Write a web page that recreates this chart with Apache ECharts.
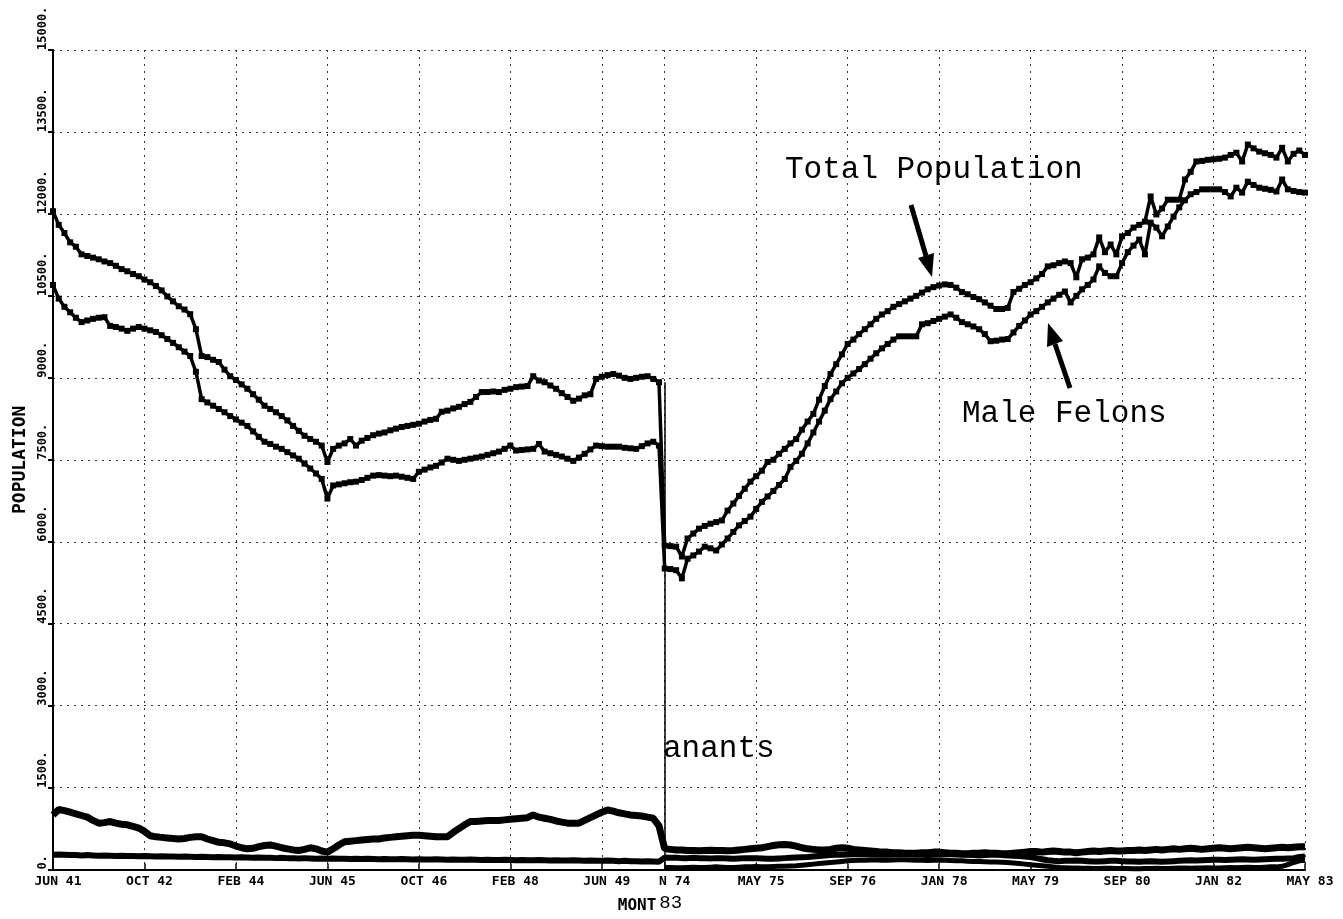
<!DOCTYPE html>
<html>
<head>
<meta charset="utf-8">
<title>Population by month</title>
<script src="https://cdn.jsdelivr.net/npm/echarts@6/dist/echarts.min.js"></script>
<style>
  html, body { margin: 0; padding: 0; background: #fff; }
  #myChart { width: 1343px; height: 919px; }
</style>
</head>
<body>
<div id="myChart"></div>
<script>
// two runs of monthly data spliced together: JUN 41 - APR 50, then JAN 74 - MAY 83
var firstPart = { year: 1941, month: 5, count: 107 };
var secondPart = { year: 1974, month: 0, count: 113 };
var monthNames = ['JAN','FEB','MAR','APR','MAY','JUN','JUL','AUG','SEP','OCT','NOV','DEC'];
var tickLabels = ['JUN 41','OCT 42','FEB 44','JUN 45','OCT 46','FEB 48','JUN 49',
                  'JAN 74','MAY 75','SEP 76','JAN 78','MAY 79','SEP 80','JAN 82','MAY 83'];

var totalLeft = [
  12050, 11800, 11650, 11480, 11400, 11260, 11230, 11200, 11170, 11130, 11100, 11050, 10990, 10950, 10900, 10860,
  10800, 10750, 10680, 10600, 10490, 10400, 10310, 10250, 10165, 9890, 9400, 9380, 9330, 9290, 9150, 9030,
  8960, 8880, 8800, 8700, 8600, 8490, 8430, 8370, 8300, 8220, 8120, 8030, 7940, 7880, 7830, 7760,
  7460, 7700, 7760, 7800, 7880, 7760, 7850, 7900, 7950, 7980, 8000, 8040, 8070, 8100, 8120, 8140,
  8160, 8200, 8230, 8250, 8380, 8400, 8440, 8470, 8520, 8560, 8650, 8740, 8740, 8750, 8740, 8780,
  8800, 8830, 8840, 8850, 9030, 8950, 8920, 8860, 8800, 8720, 8650, 8580, 8620, 8680, 8700, 8980,
  9020, 9050, 9070, 9040, 9000, 8980, 9000, 9020, 9030, 8980, 8920
];
var totalRight = [
  5930, 5920, 5910, 5730, 6060, 6150, 6240, 6290, 6330, 6360, 6390, 6570, 6700, 6840, 6970, 7100,
  7200, 7300, 7460, 7500, 7610, 7700, 7800, 7880, 8050, 8200, 8340, 8600, 8850, 9070, 9250, 9430,
  9620, 9700, 9800, 9890, 9980, 10080, 10160, 10220, 10300, 10350, 10400, 10450, 10500, 10560, 10620, 10660,
  10690, 10710, 10700, 10650, 10570, 10530, 10480, 10440, 10380, 10320, 10260, 10260, 10280, 10570, 10630, 10700,
  10750, 10820, 10900, 11040, 11060, 11100, 11130, 11100, 10840, 11170, 11200, 11260, 11570, 11300, 11440, 11260,
  11590, 11650, 11750, 11800, 11860, 12320, 11990, 12100, 12260, 12260, 12260, 12630, 12770, 12960, 12970, 12990,
  13000, 13010, 13030, 13080, 13120, 12960, 13270, 13200, 13140, 13110, 13080, 13030, 13210, 12960, 13100, 13160,
  13080
];

var maleLeft = [
  10700, 10450, 10300, 10200, 10100, 10020, 10050, 10080, 10100, 10110, 9950, 9930, 9900, 9860, 9900, 9930,
  9900, 9870, 9840, 9780, 9710, 9640, 9560, 9480, 9400, 9110, 8610, 8550, 8490, 8430, 8370, 8300,
  8240, 8180, 8120, 8020, 7920, 7830, 7790, 7740, 7700, 7640, 7580, 7520, 7430, 7340, 7250, 7150,
  6790, 7030, 7050, 7070, 7090, 7100, 7130, 7170, 7210, 7220, 7210, 7200, 7210, 7190, 7170, 7150,
  7280, 7320, 7360, 7390, 7450, 7520, 7500, 7480, 7500, 7520, 7540, 7560, 7590, 7620, 7650, 7700,
  7760, 7670, 7680, 7690, 7700, 7790, 7650, 7620, 7590, 7560, 7520, 7480, 7540, 7610, 7690, 7760,
  7750, 7740, 7740, 7740, 7720, 7710, 7700, 7750, 7800, 7830, 7760
];
var maleRight = [
  5510, 5500, 5480, 5330, 5690, 5750, 5820, 5910, 5880, 5840, 5950, 6060, 6180, 6300, 6380, 6460,
  6600, 6730, 6830, 6930, 7040, 7150, 7370, 7480, 7610, 7800, 8000, 8200, 8400, 8610, 8750, 8900,
  9000, 9080, 9160, 9250, 9350, 9450, 9540, 9620, 9700, 9760, 9760, 9760, 9760, 9980, 10000, 10040,
  10080, 10120, 10160, 10100, 10020, 9980, 9940, 9890, 9800, 9670, 9680, 9700, 9710, 9830, 9950, 10050,
  10160, 10220, 10300, 10380, 10450, 10520, 10580, 10380, 10500, 10620, 10700, 10800, 11040, 10920, 10860, 10860,
  11100, 11300, 11420, 11530, 11260, 11840, 11750, 11590, 11770, 11950, 12120, 12250, 12360, 12400, 12450, 12450,
  12450, 12450, 12400, 12320, 12480, 12390, 12590, 12530, 12480, 12460, 12440, 12410, 12630, 12450, 12420, 12400,
  12390
];

var misdLeft = [
  1000, 1100, 1080, 1050, 1020, 990, 960, 900, 850, 860, 880, 850, 830, 820, 790, 760,
  700, 620, 600, 590, 580, 570, 560, 570, 590, 600, 600, 560, 530, 500, 490, 470,
  430, 400, 380, 390, 420, 440, 450, 430, 400, 380, 360, 350, 370, 400, 380, 340,
  320, 380, 450, 510, 520, 530, 540, 550, 560, 560, 580, 590, 600, 610, 620, 630,
  630, 620, 610, 600, 600, 600, 680, 750, 820, 880, 880, 890, 900, 900, 900, 910,
  920, 930, 940, 950, 1000, 960, 940, 920, 890, 870, 850, 850, 850, 900, 950, 1000,
  1050, 1090, 1070, 1040, 1020, 1000, 990, 980, 960, 940, 800
];
var misdRight = [
  380, 370, 360, 360, 350, 350, 345, 350, 355, 350, 350, 345, 350, 360, 370, 380,
  390, 400, 420, 440, 455, 460, 450, 430, 400, 380, 370, 360, 360, 370, 390, 400,
  390, 370, 360, 350, 340, 330, 320, 320, 310, 310, 300, 300, 300, 310, 310, 320,
  320, 310, 300, 300, 290, 290, 300, 300, 310, 300, 300, 290, 290, 300, 310, 320,
  330, 330, 320, 330, 340, 330, 320, 320, 310, 320, 330, 340, 330, 340, 350, 340,
  340, 350, 350, 360, 350, 360, 370, 360, 370, 380, 370, 380, 390, 380, 370, 380,
  390, 400, 390, 380, 390, 400, 410, 400, 390, 380, 390, 400, 410, 400, 410, 420,
  420
];

var femaleLeft = [
  270, 275, 270, 265, 265, 260, 265, 260, 255, 260, 255, 250, 255, 250, 250, 245,
  250, 245, 240, 245, 240, 240, 235, 240, 235, 230, 235, 230, 225, 230, 225, 225,
  220, 225, 220, 215, 220, 215, 215, 210, 215, 210, 210, 205, 210, 205, 200, 205,
  200, 205, 200, 200, 195, 200, 195, 200, 195, 190, 195, 190, 190, 195, 190, 185,
  190, 185, 185, 190, 185, 180, 185, 180, 180, 185, 180, 175, 180, 175, 175, 180,
  175, 170, 175, 170, 170, 175, 170, 165, 170, 165, 165, 170, 165, 160, 165, 160,
  160, 165, 160, 155, 160, 155, 155, 150, 155, 150, 145
];
var femaleRight = [
  220, 215, 215, 210, 210, 215, 210, 210, 205, 210, 210, 205, 200, 205, 210, 210,
  210, 205, 200, 200, 205, 210, 215, 220, 225, 230, 240, 250, 260, 265, 270, 270,
  275, 280, 280, 280, 275, 275, 270, 270, 275, 280, 280, 275, 270, 270, 265, 270,
  275, 280, 280, 275, 270, 270, 265, 260, 265, 270, 270, 265, 260, 255, 250, 240,
  230, 210, 190, 170, 160, 155, 160, 160, 165, 160, 155, 150, 150, 155, 160, 160,
  155, 150, 150, 145, 150, 155, 150, 145, 150, 155, 160, 165, 170, 165, 170, 175,
  180, 180, 175, 180, 185, 190, 185, 180, 185, 190, 195, 200, 200, 205, 210, 230,
  240
];

// third small series only drawn on the later run
var otherRight = [
  40, 40, 35, 35, 40, 45, 40, 40, 45, 50, 45, 40, 40, 45, 50, 50,
  55, 50, 50, 55, 60, 60, 65, 70, 80, 90, 100, 110, 120, 130, 140, 150,
  160, 165, 170, 170, 175, 175, 170, 170, 175, 180, 180, 175, 170, 170, 165, 170,
  175, 170, 165, 160, 160, 155, 150, 150, 145, 140, 140, 135, 130, 120, 110, 100,
  90, 80, 70, 60, 50, 40, 35, 30, 30, 25, 25, 20, 20, 25, 25, 20,
  20, 20, 15, 15, 20, 20, 25, 20, 20, 25, 30, 30, 25, 30, 30, 35,
  30, 30, 35, 40, 35, 40, 45, 40, 40, 45, 50, 50, 60, 90, 130, 160,
  170
];

function monthList(p) {
  var out = [];
  for (var k = 0; k < p.count; k++) {
    var m = (p.month + k) % 12;
    var y = p.year + Math.floor((p.month + k) / 12);
    out.push(monthNames[m] + ' ' + String(y).slice(2));
  }
  return out;
}
var categories = monthList(firstPart).concat(monthList(secondPart));
var gap = [];
for (var g = 0; g < firstPart.count; g++) gap.push(null);

function isTick(index, value) {
  return tickLabels.indexOf(categories[index]) >= 0;
}

var plotFont = 'DejaVu Sans Mono';
var noteFont = 'Liberation Mono';
var dots = { type: [2, 5], color: '#333', width: 1 };

var option = {
  animation: false,
  backgroundColor: '#fff',
  grid: { left: 53, right: 38, top: 50, bottom: 47, containLabel: false },
  xAxis: {
    type: 'category',
    data: categories,
    boundaryGap: false,
    name: '{m|MONT}{n|83}',
    nameLocation: 'middle',
    nameGap: 22,
    nameTextStyle: {
      rich: {
        m: { fontFamily: plotFont, fontWeight: 'bold', fontSize: 16, color: '#000' },
        n: { fontFamily: noteFont, fontSize: 19, color: '#000', padding: [0, 58, 6, 3] }
      }
    },
    axisLine: { lineStyle: { color: '#000', width: 2 } },
    axisTick: { show: true, inside: true, length: 6, interval: isTick, lineStyle: { color: '#000', width: 1.5 } },
    splitLine: { show: true, interval: isTick, lineStyle: dots },
    axisLabel: {
      interval: isTick,
      margin: 6,
      padding: [0, 0, 0, 10],
      fontFamily: plotFont,
      fontWeight: 'bold',
      fontSize: 13,
      color: '#000',
      formatter: function (v) {
        if (v === 'JAN 74') return '{cut|N 74}';
        return v;
      },
      rich: {
        cut: { fontFamily: plotFont, fontWeight: 'bold', fontSize: 13, color: '#000', padding: [0, 0, 0, 10] }
      }
    }
  },
  yAxis: {
    type: 'value',
    min: 0,
    max: 15000,
    interval: 1500,
    name: 'POPULATION',
    nameLocation: 'middle',
    nameRotate: 90,
    nameGap: 20,
    nameTextStyle: { fontFamily: plotFont, fontWeight: 'bold', fontSize: 18, color: '#000' },
    axisLine: { show: true, lineStyle: { color: '#000', width: 2 } },
    axisTick: { show: true, length: 5, lineStyle: { color: '#000', width: 2 } },
    splitLine: { show: true, lineStyle: dots },
    axisLabel: {
      rotate: 90,
      align: 'left',
      verticalAlign: 'bottom',
      margin: 4,
      fontFamily: plotFont,
      fontWeight: 'bold',
      fontSize: 12,
      color: '#000',
      formatter: function (v) { return v + '.'; }
    }
  },
  series: [
    {
      name: 'Total Population',
      type: 'line',
      data: totalLeft.concat(totalRight),
      symbol: 'rect',
      symbolSize: 6,
      showAllSymbol: true,
      lineStyle: { color: '#000', width: 3.5 },
      itemStyle: { color: '#000' },
      markLine: {
        silent: true,
        symbol: 'none',
        label: { show: false },
        lineStyle: { color: '#000', type: 'solid', width: 1.5 },
        data: [[
          { coord: ['JAN 74', totalLeft[totalLeft.length - 1]] },
          { coord: ['JAN 74', 0] }
        ]]
      }
    },
    {
      name: 'Male Felons',
      type: 'line',
      data: maleLeft.concat(maleRight),
      symbol: 'rect',
      symbolSize: 6,
      showAllSymbol: true,
      lineStyle: { color: '#000', width: 3.5 },
      itemStyle: { color: '#000' }
    },
    {
      name: 'Misdemeanants',
      type: 'line',
      data: misdLeft.concat(misdRight),
      showSymbol: false,
      lineStyle: { color: '#000', width: 7 }
    },
    {
      name: 'Female Felons',
      type: 'line',
      data: femaleLeft.concat(femaleRight),
      showSymbol: false,
      lineStyle: { color: '#000', width: 6 }
    },
    {
      name: 'Other',
      type: 'line',
      data: gap.concat(otherRight),
      showSymbol: false,
      lineStyle: { color: '#000', width: 5 }
    }
  ],
  graphic: [
    { type: 'text', x: 785, y: 170, style: { text: 'Total Population', fontFamily: noteFont, fontSize: 31, fill: '#000', verticalAlign: 'middle' } },
    { type: 'text', x: 962, y: 414, style: { text: 'Male Felons', fontFamily: noteFont, fontSize: 31, fill: '#000', verticalAlign: 'middle' } },
    { type: 'text', x: 663, y: 749, style: { text: 'anants', fontFamily: noteFont, fontSize: 31, fill: '#000', verticalAlign: 'middle' } },
    // arrow to the total line
    { type: 'line', shape: { x1: 911, y1: 205, x2: 926, y2: 256 }, style: { stroke: '#000', lineWidth: 5 } },
    { type: 'polygon', shape: { points: [[932, 277], [934, 253], [918, 258]] }, style: { fill: '#000' } },
    // arrow to the male felons line
    { type: 'line', shape: { x1: 1070, y1: 388, x2: 1055, y2: 344 }, style: { stroke: '#000', lineWidth: 5 } },
    { type: 'polygon', shape: { points: [[1048, 323], [1063, 341], [1047, 347]] }, style: { fill: '#000' } }
  ]
};

var myChart = echarts.init(document.getElementById('myChart'));
myChart.setOption(option);
</script>
</body>
</html>
